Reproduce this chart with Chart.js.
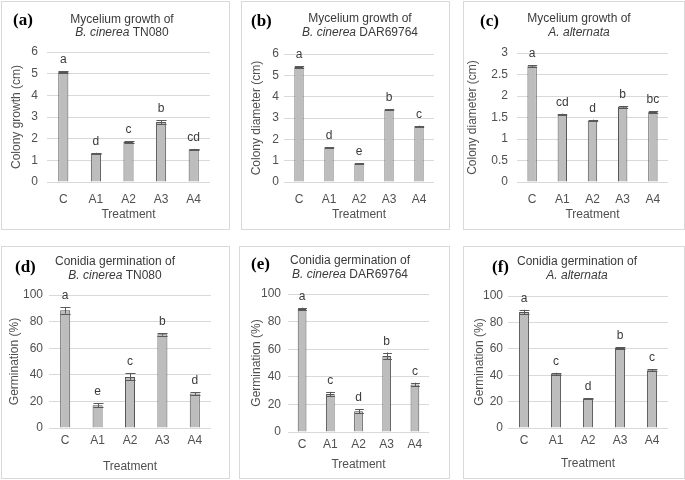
<!DOCTYPE html>
<html>
<head>
<meta charset="utf-8">
<script src="https://cdn.jsdelivr.net/npm/chart.js@4.4.0/dist/chart.umd.min.js"></script>
<style>
    body { margin: 0; width: 685px; height: 480px; position: relative; overflow: hidden; background: #fff; }
    .panel { position: absolute; box-sizing: border-box; border: 1px solid #d9d9d9; background: #fff; }
    .panel canvas { display: block; }
</style>
</head>
<body>
<script>
// Data
const treatments = ['C', 'A1', 'A2', 'A3', 'A4'];

// (a) mycelium growth, B. cinerea TN080
const mycTN080 = [5.08, 1.32, 1.85, 2.77, 1.5];
const mycTN080Err = [0.03, 0.03, 0.03, 0.09, 0.03];
const mycTN080Letters = ['a', 'd', 'c', 'b', 'cd'];

// (b) mycelium growth, B. cinerea DAR69764
const mycDAR = [5.39, 1.62, 0.86, 3.39, 2.61];
const mycDARErr = [0.04, 0.02, 0.02, 0.03, 0.03];
const mycDARLetters = ['a', 'd', 'e', 'b', 'c'];

// (c) mycelium growth, A. alternata
const mycAlt = [2.69, 1.57, 1.43, 1.75, 1.63];
const mycAltErr = [0.02, 0.02, 0.02, 0.02, 0.02];
const mycAltLetters = ['a', 'cd', 'd', 'b', 'bc'];

// (d) conidia germination, B. cinerea TN080
const germTN080 = [88.5, 17.1, 38.4, 70.4, 25.9];
const germTN080Err = [2.5, 1.5, 2.6, 1, 1];
const germTN080Letters = ['a', 'e', 'c', 'b', 'd'];

// (e) conidia germination, B. cinerea DAR69764
const germDAR = [89.1, 27.6, 15.1, 55.1, 34.5];
const germDARErr = [1, 1.5, 1.5, 2.5, 1.2];
const germDARLetters = ['a', 'c', 'd', 'b', 'c'];

// (f) conidia germination, A. alternata
const germAlt = [87.8, 41.1, 22.3, 60.7, 43.7];
const germAltErr = [1.8, 0.8, 0.5, 0.5, 0.8];
const germAltLetters = ['a', 'c', 'd', 'b', 'c'];

const panels = [
    { tag: '(a)', values: mycTN080, errors: mycTN080Err, letters: mycTN080Letters,
      yTitle: 'Colony growth (cm)', yMax: 6, yStep: 1,
      title1: 'Mycelium growth of', title2: [['B. cinerea', true], [' TN080', false]],
      box: [1, 1, 229, 229], plot: [47, 52, 210, 182], tickGap: 9, xTickGap: 2,
      tagPos: [13, 21], titlePos: [122, 20, 33], yTitleX: 17, xTitleY: 213 },
    { tag: '(b)', values: mycDAR, errors: mycDARErr, letters: mycDARLetters,
      yTitle: 'Colony diameter (cm)', yMax: 6, yStep: 1,
      title1: 'Mycelium growth of', title2: [['B. cinerea', true], [' DAR69764', false]],
      box: [241, 1, 209, 229], plot: [284, 54, 434, 182], tickGap: 5, xTickGap: 2,
      tagPos: [251, 22], titlePos: [360, 19, 33], yTitleX: 257, xTitleY: 213 },
    { tag: '(c)', values: mycAlt, errors: mycAltErr, letters: mycAltLetters,
      yTitle: 'Colony diameter (cm)', yMax: 3, yStep: 0.5,
      title1: 'Mycelium growth of', title2: [['A. alternata', true]],
      box: [463, 1, 222, 229], plot: [517, 53, 668, 182], tickGap: 9, xTickGap: 2,
      tagPos: [480, 22], titlePos: [579, 19, 33], yTitleX: 473, xTitleY: 213 },
    { tag: '(d)', values: germTN080, errors: germTN080Err, letters: germTN080Letters,
      yTitle: 'Germination (%)', yMax: 100, yStep: 20,
      title1: 'Conidia germination of', title2: [['B. cinerea', true], [' TN080', false]],
      box: [1, 246, 229, 233], plot: [49, 295, 211, 428], tickGap: 6, xTickGap: -3,
      tagPos: [15, 268], titlePos: [115, 262, 276], yTitleX: 15, xTitleY: 465 },
    { tag: '(e)', values: germDAR, errors: germDARErr, letters: germDARLetters,
      yTitle: 'Germination (%)', yMax: 100, yStep: 20,
      title1: 'Conidia germination of', title2: [['B. cinerea', true], [' DAR69764', false]],
      box: [239, 246, 211, 233], plot: [288, 294, 429, 432], tickGap: 7, xTickGap: -3,
      tagPos: [251, 265], titlePos: [350, 261, 275], yTitleX: 257, xTitleY: 463 },
    { tag: '(f)', values: germAlt, errors: germAltErr, letters: germAltLetters,
      yTitle: 'Germination (%)', yMax: 100, yStep: 20,
      title1: 'Conidia germination of', title2: [['A. alternata', true]],
      box: [463, 246, 222, 233], plot: [508, 296, 668, 428], tickGap: 5, xTickGap: -3,
      tagPos: [492, 268], titlePos: [577, 262, 276], yTitleX: 480, xTitleY: 462 }
];

const SANS = '"Liberation Sans", Arial, sans-serif';
const TEXT_GREY = '#505050';
Chart.defaults.font.family = SANS;

// error bars, significance letters, panel tag and two-line title
function extrasPlugin(p, ox, oy) {
    return {
        id: 'extras',
        afterDatasetsDraw(chart) {
            const ctx = chart.ctx;
            const yScale = chart.scales.y;
            const meta = chart.getDatasetMeta(0);
            ctx.save();
            meta.data.forEach((bar, i) => {
                const v = p.values[i], e = p.errors[i];
                const yHi = yScale.getPixelForValue(v + e);
                const yLo = yScale.getPixelForValue(v - e);
                const half = bar.width / 2;
                const x = Math.round(bar.x) + 0.5;
                ctx.strokeStyle = '#595959';
                ctx.lineWidth = 1;
                ctx.beginPath();
                ctx.moveTo(x, yHi); ctx.lineTo(x, yLo);
                ctx.moveTo(x - half, Math.round(yHi) + 0.5); ctx.lineTo(x + half, Math.round(yHi) + 0.5);
                ctx.moveTo(x - half, Math.round(yLo) + 0.5); ctx.lineTo(x + half, Math.round(yLo) + 0.5);
                ctx.stroke();

                ctx.fillStyle = '#3a3a3a';
                ctx.font = '12px ' + SANS;
                ctx.textAlign = 'center';
                ctx.textBaseline = 'alphabetic';
                ctx.fillText(p.letters[i], bar.x, Math.min(yHi, bar.y) - 8);
            });

            // panel tag
            ctx.fillStyle = '#000';
            ctx.font = 'bold 17px "Liberation Serif", "Times New Roman", serif';
            ctx.textAlign = 'left';
            ctx.textBaseline = 'middle';
            ctx.fillText(p.tag, p.tagPos[0] - ox, p.tagPos[1] - oy);

            // title line 1
            const [tx, ty1, ty2] = p.titlePos;
            ctx.fillStyle = '#3a3a3a';
            ctx.font = '12px ' + SANS;
            ctx.textAlign = 'center';
            ctx.fillText(p.title1, tx - ox, ty1 - oy);

            // title line 2, mixed italic
            let total = 0;
            p.title2.forEach(([txt, it]) => {
                ctx.font = (it ? 'italic ' : '') + '12px ' + SANS;
                total += ctx.measureText(txt).width;
            });
            let cx = tx - ox - total / 2;
            ctx.textAlign = 'left';
            p.title2.forEach(([txt, it]) => {
                ctx.font = (it ? 'italic ' : '') + '12px ' + SANS;
                ctx.fillText(txt, cx, ty2 - oy);
                cx += ctx.measureText(txt).width;
            });
            ctx.restore();
        }
    };
}

function makePanel(p) {
    const [bx, by, bw, bh] = p.box;
    const div = document.createElement('div');
    div.className = 'panel';
    div.style.left = bx + 'px';
    div.style.top = by + 'px';
    div.style.width = bw + 'px';
    div.style.height = bh + 'px';
    const canvas = document.createElement('canvas');
    const cw = bw - 2, ch = bh - 2;
    canvas.width = cw;
    canvas.height = ch;
    canvas.style.width = cw + 'px';
    canvas.style.height = ch + 'px';
    div.appendChild(canvas);
    document.body.appendChild(div);

    const ox = bx + 1, oy = by + 1;
    const [L, T, R, B] = p.plot;

    new Chart(canvas, {
        type: 'bar',
        data: {
            labels: treatments,
            datasets: [{
                data: p.values,
                backgroundColor: '#bdbdbd',
                borderColor: '#555555',
                borderWidth: 1,
                barPercentage: 0.31,
                categoryPercentage: 1
            }]
        },
        options: {
            responsive: false,
            animation: false,
            devicePixelRatio: 1,
            layout: { padding: { left: 0, top: T - oy, right: ox + cw - R, bottom: 0 } },
            plugins: { legend: { display: false }, tooltip: { enabled: false } },
            scales: {
                x: {
                    grid: { display: false },
                    border: { display: false },
                    ticks: { color: TEXT_GREY, font: { size: 12 }, padding: p.xTickGap },
                    title: {
                        display: true, text: 'Treatment', color: TEXT_GREY,
                        font: { size: 12, lineHeight: 1.2 },
                        padding: { top: 0, bottom: (oy + ch) - p.xTitleY - 9.2 }
                    },
                    afterFit: s => { s.height = oy + ch - B; }
                },
                y: {
                    min: 0,
                    max: p.yMax,
                    ticks: {
                        stepSize: p.yStep, color: TEXT_GREY, font: { size: 12 }, padding: p.tickGap,
                        callback: v => String(v)
                    },
                    grid: { color: '#d9d9d9', drawTicks: false },
                    border: { display: false },
                    title: {
                        display: true, text: p.yTitle, color: TEXT_GREY,
                        font: { size: 12, lineHeight: 1.2 },
                        padding: { top: p.yTitleX - ox - 7.2, bottom: 0 }
                    },
                    afterFit: s => { s.width = L - ox; }
                }
            }
        },
        plugins: [extrasPlugin(p, ox, oy)]
    });
}

panels.forEach(makePanel);
</script>
</body>
</html>
